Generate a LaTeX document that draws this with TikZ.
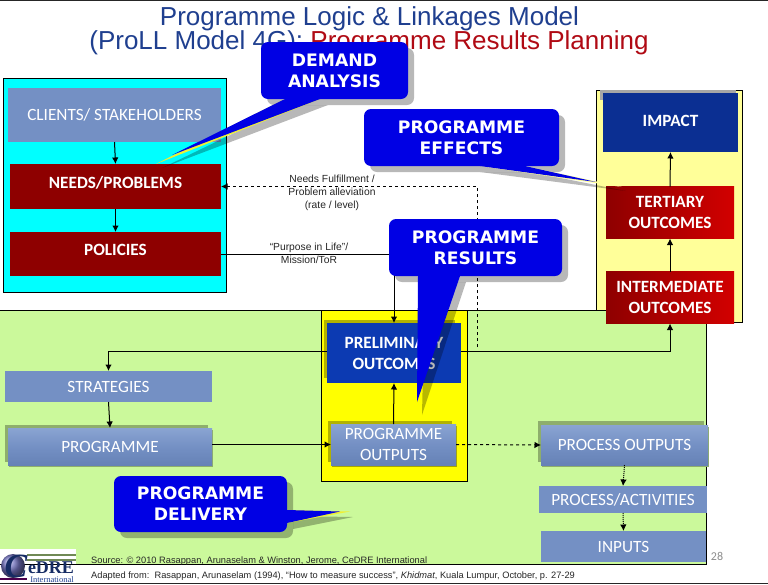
\documentclass[tikz,border=0pt]{standalone}
\usepackage{fontspec}
\setmainfont{Carlito}
\newfontfamily\titlefont{Liberation Sans}
\newfontfamily\callfont{DejaVu Sans}
\newfontfamily\logofont{Liberation Serif}
\usetikzlibrary{arrows.meta,calc}
\definecolor{steelbox}{HTML}{7490C4}
\definecolor{steeltop}{HTML}{8AA4D2}
\definecolor{steelbot}{HTML}{6682B6}
\definecolor{darkred}{HTML}{8E0000}
\definecolor{brightred}{HTML}{D20000}
\definecolor{navybox}{HTML}{0B2F92}
\definecolor{prelimblue}{HTML}{0C3AB2}
\definecolor{callblue}{HTML}{0000E4}
\definecolor{lawn}{HTML}{CBF99B}
\definecolor{paleyel}{HTML}{FFFF99}
\definecolor{pureyel}{HTML}{FFFF00}
\definecolor{purecyan}{HTML}{00FFFF}
\definecolor{titleblue}{HTML}{1F3F8F}
\definecolor{titlered}{HTML}{B00A14}
\tikzset{
  x=1pt,y=-1pt,
  boxtext/.style={text=white,align=center,inner sep=0pt,outer sep=0pt,font=\fontsize{17.2}{21}\selectfont},
  boldtext/.style={boxtext,font=\fontsize{17.2}{21}\selectfont\bfseries},
  flatbox/.style={boxtext,fill=steelbox},
  glossbox/.style={boxtext,top color=steeltop,bottom color=steelbot,middle color=steelbox},
  redbox/.style={boldtext,fill=darkred},
  gradbox/.style={boldtext,left color=darkred,right color=brightred},
  bluebox/.style={boldtext,fill=prelimblue},
  impactbox/.style={boldtext,fill=navybox},
  region/.style={draw=black,line width=.9pt},
  calloutbox/.style={fill=callblue,draw=none,rounded corners=7pt,text=white,align=center,inner sep=0pt,outer sep=0pt,font=\callfont\bfseries\fontsize{17.2}{21}\selectfont},
  callshadow/.style={fill=black,opacity=.28,draw=none},
  arr/.style={-{Latex[length=6.5pt,width=6.5pt]},line width=1pt,black},
  small/.style={font=\titlefont\fontsize{10.3}{13}\selectfont,align=center,inner sep=0pt,text=black!85},
  foot/.style={font=\titlefont\fontsize{9.27}{12}\selectfont,anchor=base west,inner sep=0pt,text=black!85},
}
% name, style, x1, y1, x2, y2, text
\newcommand{\bx}[7]{\node[#2,minimum width={(#5-#3)*1pt},minimum height={(#6-#4)*1pt}] (#1) at ({(#3+#5)/2},{(#4+#6)/2}) {#7};}
\begin{document}
\begin{tikzpicture}
\useasboundingbox (0,0) rectangle (768,584);
\fill[white] (0,0) rectangle (768,584);
\fill[black!85] (0,0) rectangle (768,1);
\fill[black!85] (0,583) rectangle (768,584);
% title
\node[font=\titlefont\fontsize{26}{30}\selectfont,text=titleblue,anchor=base,inner sep=0pt] (title1) at (369.5,25) {Programme Logic \& Linkages Model};
\node[font=\titlefont\fontsize{26}{30}\selectfont,anchor=base,inner sep=0pt] (title2) at (369,49) {\textcolor{titleblue}{(ProLL Model 4G): }\textcolor{titlered}{Programme Results Planning}};
% regions
\draw[region,fill=purecyan] (3.5,78) rectangle (226,292);
\draw[region,fill=paleyel] (596,90) rectangle (742,322);
\fill[lawn] (0,310) rectangle (706,564);
\draw[region] (0,310) -- (706,310) -- (706,564) -- (0,564);
\draw[region,fill=pureyel] (321,310) rectangle (467,481);
% boxes
\bx{clients}{flatbox}{8}{88}{221}{142}{CLIENTS/ STAKEHOLDERS}
\bx{needs}{redbox}{10}{164}{221}{209}{\raisebox{8pt}{NEEDS/PROBLEMS}}
\bx{policies}{redbox}{10}{232}{221}{276}{\raisebox{9pt}{POLICIES}}
\fill[black!35] (600,90) rectangle (736,100);
\bx{impact}{impactbox}{603}{93}{738}{152}{\raisebox{2.5pt}{IMPACT}}
\bx{tertiary}{gradbox}{606}{186.5}{734}{238.5}{TERTIARY\\OUTCOMES}
\bx{intermediate}{gradbox}{606}{271.5}{734}{323.5}{INTERMEDIATE\\OUTCOMES}
\fill[black!30!pureyel] (324,320) rectangle (455,378);
\bx{prelim}{bluebox}{327}{323}{461}{383}{PRELIMINARY\\OUTCOMES}
\fill[black!30!pureyel] (328,421) rectangle (452,462);
\fill[black!35!pureyel] (332,426) rectangle (457,467);
\bx{outputs}{glossbox}{331}{424}{456}{465}{PROGRAMME\\OUTPUTS}
\bx{strategies}{flatbox}{5}{371}{212}{402}{STRATEGIES}
\fill[black!30!lawn] (5,425) rectangle (208,462);
\fill[black!30!lawn] (9,430) rectangle (213,467);
\bx{programme}{glossbox}{8}{428}{212}{465}{PROGRAMME}
\fill[black!30!lawn] (538,421) rectangle (704,462);
\fill[black!30!lawn] (542,427) rectangle (709,467);
\bx{procout}{glossbox}{541}{425}{708}{465}{PROCESS OUTPUTS}
\bx{procact}{flatbox}{539}{486}{707}{513}{PROCESS/ACTIVITIES}
\bx{inputs}{flatbox}{541}{531}{706}{562}{INPUTS}
% connectors
\coordinate (dashstart) at (477,347);
\draw[arr] (clients.south) -- (needs.north);
\draw[arr] (needs.south) -- (policies.north);
\draw[arr] (intermediate.north) -- (tertiary.south);
\draw[arr] (tertiary.north) -- (impact.south);
\draw[arr] (policies.east) -| (prelim.north);
\draw[arr,dashed] (dashstart) |- (needs.east);
\draw[arr] ([yshift=2pt]prelim.east) -| (intermediate.south);
\draw[arr] ([yshift=2pt]prelim.west) -| (strategies.north);
\draw[arr] (strategies.south) -- (programme.north);
\draw[arr] (outputs.west -| programme.east) -- (outputs.west);
\draw[arr] (outputs.north) -- (prelim.south);
\draw[arr,dashed] (outputs.east) -- (procout.west);
\draw[arr,densely dotted] (procout.south) -- (procact.north);
\draw[arr,densely dotted] (procact.south) -- (inputs.north);
% connector labels
\node[small] (lblneeds) at (332,193) {Needs Fulfillment /\\Problem alleviation\\(rate / level)};
\node[small] (lblpurpose) at (309,253.5) {“Purpose in Life”/\\Mission/ToR};
% callouts
\begin{scope}[shift={(6,6)}]
\fill[callshadow,rounded corners=7pt] (261,42) rectangle (408,99);
\fill[callshadow,rounded corners=7pt] (364,109) rectangle (559,166);
\fill[callshadow,rounded corners=7pt] (389,219) rectangle (562,276);
\fill[callshadow,rounded corners=7pt] (114,476) rectangle (287,532);
\end{scope}
\fill[callshadow] (292,105) -- (328,105) -- (162,168) -- cycle;
\fill[callshadow] (480,172) -- (531,172) -- (626,191) -- cycle;
\fill[callshadow] (425,282) -- (466,282) -- (422,415) -- cycle;
\fill[callshadow] (293,516) -- (293,529) -- (353,517) -- cycle;
\fill[yellow!70!lawn] (285,99) -- (320,99) -- (156,164) -- cycle;
\fill[callblue] (285,99) -- (320,99) -- (172,155) -- cycle;
\fill[paleyel] (480,166) -- (525,166) -- (622,187) -- cycle;
\fill[callblue] (480,166) -- (525,166) -- (596,182) -- cycle;
\fill[callblue] (418,276) -- (460,276) -- (417,402) -- cycle;
\fill[yellow!70!lawn] (287,510) -- (287,523) -- (350,511.5) -- cycle;
\fill[callblue] (287,510) -- (287,523) -- (340,511.5) -- cycle;
\bx{demand}{calloutbox}{261}{42}{408}{99}{DEMAND\\ANALYSIS}
\bx{effects}{calloutbox}{364}{109}{559}{166}{PROGRAMME\\EFFECTS}
\bx{results}{calloutbox}{389}{219}{562}{276}{PROGRAMME\\RESULTS}
\bx{delivery}{calloutbox}{114}{476}{287}{532}{PROGRAMME\\DELIVERY}
% footer
\node[foot] (source) at (91,563) {Source: © 2010 Rasappan, Arunaselam \& Winston, Jerome, CeDRE International};
\node[foot] (adapted) at (91,578) {Adapted from:\ \ Rasappan, Arunaselam (1994), “How to measure success”, \textit{Khidmat}, Kuala Lumpur, October, p. 27-29};
\node[font=\fontsize{12}{14}\selectfont,text=black!45,inner sep=0pt] (pageno) at (717,556) {28};
% logo
\fill[white] (0,549) rectangle (76,583);
\fill[black!45!lawn] (27,554) rectangle (76,556);
\fill[black!45!lawn] (27,559) rectangle (76,561);
\fill[violet!60!black] (0,578) rectangle (27,580);
\draw[black,line width=.8pt] (0,564.5) -- (76,564.5);
\shade[ball color=black!45!blue!55] (13,566) circle (12);
\node[font=\logofont\bfseries\itshape\fontsize{34}{34}\selectfont,text=titleblue!70!black,inner sep=0pt] (logoc) at (16,566) {C};
\node[font=\logofont\bfseries\fontsize{18}{18}\selectfont,text=titleblue!70!black,inner sep=0pt] (logoname) at (51,567.5) {eDRE};
\node[font=\logofont\fontsize{8.5}{9}\selectfont,text=titleblue,inner sep=0pt] (logoint) at (52,580) {International};
\end{tikzpicture}
\end{document}
